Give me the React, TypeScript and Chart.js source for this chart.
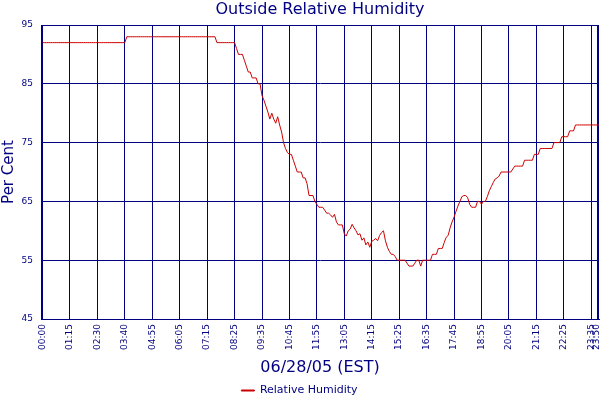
import { useEffect, useRef } from 'react';
import { Chart, registerables } from 'chart.js';

Chart.register(...registerables);

const NAVY = '#000080';
const LINE_RED = '#cc0000';

// x tick positions (sample index) and their time labels
const TICK_INDEX = [0, 14, 28, 42, 56, 70, 84, 98, 112, 126, 140, 154, 168, 182, 196, 210, 224, 238, 252, 266, 280, 283];
const TICK_LABELS = [
  '00:00', '01:15', '02:30', '03:40', '04:55', '06:05', '07:15', '08:25', '09:35', '10:45', '11:55',
  '13:05', '14:15', '15:25', '16:35', '17:45', '18:55', '20:05', '21:15', '22:25', '23:35', '23:50',
];

const Y_MIN = 45;
const Y_MAX = 95;
const Y_STEP = 10;

// relative humidity, one reading per sample (~5 min)
const HUMIDITY = [
  92, 92, 92, 92, 92, 92, 92, 92, 92, 92,
  92, 92, 92, 92, 92, 92, 92, 92, 92, 92,
  92, 92, 92, 92, 92, 92, 92, 92, 92, 92,
  92, 92, 92, 92, 92, 92, 92, 92, 92, 92,
  92, 92, 92, 93, 93, 93, 93, 93, 93, 93,
  93, 93, 93, 93, 93, 93, 93, 93, 93, 93,
  93, 93, 93, 93, 93, 93, 93, 93, 93, 93,
  93, 93, 93, 93, 93, 93, 93, 93, 93, 93,
  93, 93, 93, 93, 93, 93, 93, 93, 93, 92,
  92, 92, 92, 92, 92, 92, 92, 92, 92, 91,
  90, 90, 90, 89, 88, 87, 87, 86, 86, 86,
  85, 85, 83, 82.2, 81.2, 80.2, 79, 80, 79, 78.3,
  79.4, 78, 76.8, 75, 74, 73.3, 73, 73, 72, 71,
  70, 70, 70, 69, 69, 68, 66, 66, 66, 65,
  64.5, 64, 64, 64, 63.5, 63, 63, 62.7, 62.3, 62.8,
  61.5, 61, 61, 61, 59.5, 59.1, 60, 60.3, 61.1, 60.5,
  60, 59.3, 59.5, 58.4, 58.8, 57.6, 58.1, 57.2, 58.2, 58.4,
  58.7, 58.3, 59.2, 59.7, 60, 58.3, 57.2, 56.5, 56, 56,
  55.6, 55, 55, 55, 55, 55, 54.5, 54, 54, 54,
  54.5, 55, 55, 54, 55, 55, 55, 55, 55, 56,
  56, 56, 57, 57, 57, 58, 58.9, 59.2, 60.5, 61.5,
  62.3, 63.3, 64.2, 65, 65.8, 66, 66, 65.6, 64.5, 64,
  64, 64, 65, 65, 64.5, 65, 65, 65.8, 66.8, 67.5,
  68.2, 68.8, 69, 69.3, 70, 70, 70, 70, 70, 70,
  70.5, 71, 71, 71, 71, 71, 72, 72, 72, 72,
  72, 73, 73, 73, 74, 74, 74, 74, 74, 74,
  74, 75, 75, 75, 75, 76, 76, 76, 76, 77,
  77, 77, 78, 78, 78, 78, 78, 78, 78, 78,
  78, 78, 78, 78, 78,
];

// box around the plot area
const frame = {
  id: 'frame',
  beforeDatasetsDraw(chart: Chart) {
    const { ctx, chartArea: a } = chart;
    const l = Math.round(a.left) + 0.5;
    const t = Math.round(a.top) + 0.5;
    const r = Math.round(a.right) - 0.5;
    const b = Math.round(a.bottom) + 0.5;
    ctx.save();
    ctx.strokeStyle = NAVY;
    ctx.lineWidth = 1;
    ctx.strokeRect(l, t, r - l, b - t);
    ctx.restore();
  },
};

export default function App() {
  const canvasRef = useRef<HTMLCanvasElement>(null);

  useEffect(() => {
    if (!canvasRef.current) return;
    Chart.defaults.font.family = '"DejaVu Sans", Verdana, sans-serif';
    Chart.defaults.color = NAVY;

    const chart = new Chart(canvasRef.current, {
      type: 'line',
      data: {
        datasets: [{
          label: 'Relative Humidity',
          data: HUMIDITY.map((v, i) => ({ x: i, y: v })),
          borderColor: LINE_RED,
          backgroundColor: LINE_RED,
          borderWidth: 1,
          pointRadius: 0,
          tension: 0,
          fill: false,
        }],
      },
      options: {
        responsive: false,
        animation: false,
        layout: { padding: { top: 0, left: 0, right: 1, bottom: -6 } },
        scales: {
          x: {
            type: 'linear',
            min: -0.8,
            max: HUMIDITY.length - 1,
            afterBuildTicks: (s: any) => {
              s.ticks = TICK_INDEX.map(v => ({ value: v }));
            },
            afterFit: (s: any) => {
              s.height = 58;
              s.paddingLeft = 0;
              s.paddingRight = 0;
            },
            ticks: {
              autoSkip: false,
              minRotation: 90,
              maxRotation: 90,
              padding: 5,
              color: NAVY,
              font: { size: 9 },
              callback: (_v: any, i: number) => TICK_LABELS[i] ?? '',
            },
            grid: { color: NAVY, lineWidth: 1, drawTicks: false },
            border: { color: NAVY },
            title: {
              display: true,
              text: '06/28/05 (EST)',
              color: NAVY,
              font: { size: 16 },
              padding: { top: 0, bottom: 0 },
            },
          },
          y: {
            min: Y_MIN,
            max: Y_MAX,
            afterFit: (s: any) => { s.width = 41; },
            ticks: { stepSize: Y_STEP, padding: 8, color: NAVY, font: { size: 9 } },
            grid: { color: NAVY, lineWidth: 1, drawTicks: false },
            border: { color: NAVY },
            title: {
              display: true,
              text: 'Per Cent',
              color: NAVY,
              font: { size: 15 },
              padding: { top: 0, bottom: 0 },
            },
          },
        },
        plugins: {
          title: {
            display: true,
            text: 'Outside Relative Humidity',
            color: NAVY,
            fullSize: false,
            font: { size: 16, weight: 'normal' },
            padding: { top: 0, bottom: 5.8 },
          },
          legend: {
            position: 'bottom',
            labels: { color: NAVY, font: { size: 11 }, boxWidth: 13, boxHeight: 1, padding: 8 },
          },
          tooltip: { enabled: false },
        },
      },
      plugins: [frame],
    });
    return () => { chart.destroy(); };
  }, []);

  return (
    <div style={{ position: 'absolute', left: 0, top: 0, width: 600, height: 400, background: '#fff' }}>
      <canvas ref={canvasRef} width={600} height={400} />
    </div>
  );
}
